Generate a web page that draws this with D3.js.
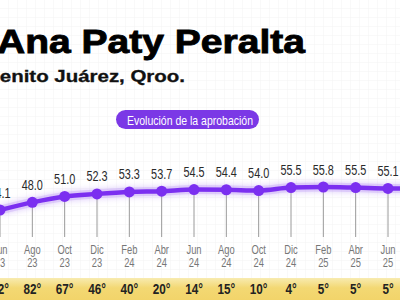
<!DOCTYPE html>
<html><head><meta charset="utf-8">
<script src="https://cdn.jsdelivr.net/npm/d3@7/dist/d3.min.js"></script>
<style>html,body{margin:0;padding:0;background:#fff;overflow:hidden}svg{display:block}</style>
</head><body>
<svg id="c" width="400" height="300"></svg>
<script>
const values = [44.1, 48.0, 51.0, 52.3, 53.3, 53.7, 54.5, 54.4, 54.0, 55.5, 55.8, 55.5, 55.1, 55.0];
const months = ["Jun","Ago","Oct","Dic","Feb","Abr","Jun","Ago","Oct","Dic","Feb","Abr","Jun","Ago"];
const years  = ["23","23","23","23","24","24","24","24","24","24","25","25","25","25"];
const ranks  = ["92°","82°","67°","46°","40°","20°","14°","15°","10°","4°","5°","5°","5°","5°"];
const title = "Ana Paty Peralta";
const subtitle = "Benito Juárez, Qroo.";
const pillText = "Evolución de la aprobación";

const svg = d3.select("#c");
const defs = svg.append("defs");
const pat = defs.append("pattern").attr("id","grid").attr("width",9).attr("height",9).attr("patternUnits","userSpaceOnUse");
pat.append("path").attr("d","M9 0V9M0 9H9").attr("stroke","#f3f3f3").attr("stroke-width",1).attr("fill","none");
const grad = defs.append("linearGradient").attr("id","yb").attr("x1",0).attr("y1",0).attr("x2",0).attr("y2",1);
grad.append("stop").attr("offset","0%").attr("stop-color","#f8ebb0");
grad.append("stop").attr("offset","45%").attr("stop-color","#f3d873");
grad.append("stop").attr("offset","100%").attr("stop-color","#f2d46a");
const glow = defs.append("filter").attr("id","glow").attr("x","-20%").attr("y","-50%").attr("width","140%").attr("height","200%");
glow.append("feGaussianBlur").attr("in","SourceGraphic").attr("stdDeviation",3).attr("result","b");
const fm = glow.append("feMerge");
fm.append("feMergeNode").attr("in","b");
fm.append("feMergeNode").attr("in","SourceGraphic");

svg.append("rect").attr("width",400).attr("height",300).attr("fill","#fff");
svg.append("rect").attr("width",400).attr("height",300).attr("fill","url(#grid)");

// title
svg.append("text").attr("x",-3).attr("y",53).text(title)
  .attr("font-family","Liberation Sans, Arial, sans-serif").attr("font-weight","bold")
  .attr("font-size",34).attr("fill","#000").attr("stroke","#000").attr("stroke-width",0.9)
  .attr("textLength",308).attr("lengthAdjust","spacingAndGlyphs");
svg.append("text").attr("x",-15).attr("y",82).text(subtitle)
  .attr("font-family","Liberation Sans, Arial, sans-serif").attr("font-weight","bold")
  .attr("font-size",16).attr("fill","#111").attr("stroke","#111").attr("stroke-width",0.3)
  .attr("textLength",200).attr("lengthAdjust","spacingAndGlyphs");

// pill
svg.append("rect").attr("x",116).attr("y",110).attr("width",143).attr("height",19).attr("rx",9.5)
  .attr("fill","#7b38e6");
svg.append("text").attr("x",127).attr("y",124.5).text(pillText)
  .attr("font-family","Liberation Sans, Arial, sans-serif").attr("font-size",13.5).attr("fill","#fff")
  .attr("textLength",126).attr("lengthAdjust","spacingAndGlyphs");

// scales
const x = d3.scaleLinear().domain([0, 12]).range([0, 388]);
const y = d3.scaleLinear().domain([44.1, 55.8]).range([210, 187]);

// yellow band
svg.append("rect").attr("x",0).attr("y",278).attr("width",400).attr("height",22).attr("fill","url(#yb)");

const idx = d3.range(values.length);

// stems
svg.append("g").selectAll("line").data(idx).join("line")
  .attr("x1",i=>x(i)).attr("x2",i=>x(i)).attr("y1",i=>y(values[i])).attr("y2",237)
  .attr("stroke","#9a9a9a").attr("stroke-width",1);

// line
const line = d3.line().x(i=>x(i)).y(i=>y(values[i])).curve(d3.curveMonotoneX);
svg.append("path").datum(idx).attr("d",line).attr("fill","none")
  .attr("stroke","#b48cf5").attr("stroke-width",9).attr("opacity",0.45).attr("filter","url(#glow)");
svg.append("path").datum(idx).attr("d",line).attr("fill","none")
  .attr("stroke","#7b2ff0").attr("stroke-width",4.5).attr("stroke-linecap","round");
svg.append("g").selectAll("circle").data(idx).join("circle")
  .attr("cx",i=>x(i)).attr("cy",i=>y(values[i])).attr("r",5.5).attr("fill","#7b2ff0");

// value labels
const vl = svg.append("g").selectAll("g").data(idx).join("g")
  .attr("transform",i=>`translate(${x(i)},${y(values[i])-12.5})`);
vl.append("text").attr("text-anchor","middle").attr("transform","scale(0.75,1)")
  .attr("font-family","Liberation Sans, Arial, sans-serif").attr("font-size",14.5).attr("fill","#2a2a2a")
  .text(i=>values[i].toFixed(1));

// month labels
const ml = svg.append("g").selectAll("g").data(idx).join("g")
  .attr("transform",i=>`translate(${x(i)},0)`);
ml.append("text").attr("y",254.5).attr("text-anchor","middle").attr("transform","scale(0.78,1)")
  .attr("font-family","Liberation Sans, Arial, sans-serif").attr("font-size",12).attr("fill","#777")
  .text(i=>months[i]);
ml.append("text").attr("y",267.5).attr("text-anchor","middle").attr("transform","scale(0.78,1)")
  .attr("font-family","Liberation Sans, Arial, sans-serif").attr("font-size",12).attr("fill","#777")
  .text(i=>years[i]);
ml.append("text").attr("y",294).attr("text-anchor","middle").attr("transform","scale(0.78,1)")
  .attr("font-family","Liberation Sans, Arial, sans-serif").attr("font-size",15).attr("font-weight","bold").attr("fill","#222")
  .text(i=>ranks[i]);
</script>
</body></html>
